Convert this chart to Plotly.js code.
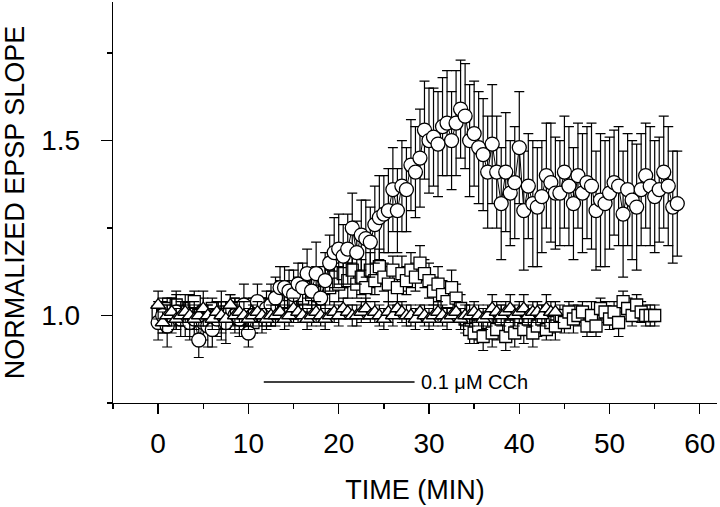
<!DOCTYPE html>
<html>
<head>
<meta charset="utf-8">
<script src="https://cdn.plot.ly/plotly-3.0.1.min.js"></script>
<style>
  html, body { margin: 0; padding: 0; background: #fff; }
  #plot { width: 720px; height: 507px; }
</style>
</head>
<body>
<div id="plot"></div>
<script>
// time points (min), shared by all three groups
const timeMin = [
    0, 0.5, 1, 1.5, 2, 2.5, 3, 3.5, 4, 4.5, 5, 5.5, 6, 6.5, 7, 7.5, 8, 8.5, 9, 9.5,
    10, 10.5, 11, 11.5, 12, 12.5, 13, 13.5, 14, 14.5, 15, 15.5, 16, 16.5, 17, 17.5, 18, 18.5, 19, 19.5,
    20, 20.5, 21, 21.5, 22, 22.5, 23, 23.5, 24, 24.5, 25, 25.5, 26, 26.5, 27, 27.5, 28, 28.5, 29, 29.5,
    30, 30.5, 31, 31.5, 32, 32.5, 33, 33.5, 34, 34.5, 35, 35.5, 36, 36.5, 37, 37.5, 38, 38.5, 39, 39.5,
    40, 40.5, 41, 41.5, 42, 42.5, 43, 43.5, 44, 44.5, 45, 45.5, 46, 46.5, 47, 47.5, 48, 48.5, 49, 49.5,
    50, 50.5, 51, 51.5, 52, 52.5, 53, 53.5, 54, 54.5, 55, 55.5, 56, 56.5, 57, 57.5
];

// circles (0 - 57.5 min)
const circleY = [
    0.98, 1.00, 0.97, 1.00, 1.01, 0.99, 1.00, 0.98, 0.99, 0.93, 0.98, 0.97, 0.96, 0.99, 1.00, 0.98, 1.01, 1.00, 0.99, 1.03,
    0.95, 1.00, 1.04, 1.00, 1.02, 1.03, 1.05, 1.08, 1.08, 1.07, 1.06, 1.09, 1.08, 1.12, 1.07, 1.12, 1.05, 1.10, 1.15, 1.18,
    1.19, 1.17, 1.19, 1.25, 1.18, 1.23, 1.22, 1.21, 1.26, 1.28, 1.29, 1.30, 1.36, 1.30, 1.37, 1.36, 1.43, 1.41, 1.45, 1.53,
    1.50, 1.51, 1.49, 1.54, 1.55, 1.50, 1.55, 1.59, 1.57, 1.50, 1.52, 1.48, 1.46, 1.41, 1.49, 1.41, 1.32, 1.41, 1.35, 1.38,
    1.48, 1.30, 1.37, 1.32, 1.31, 1.34, 1.40, 1.38, 1.35, 1.35, 1.41, 1.37, 1.32, 1.40, 1.35, 1.38, 1.37, 1.30, 1.33, 1.32,
    1.35, 1.38, 1.37, 1.29, 1.36, 1.33, 1.31, 1.36, 1.40, 1.37, 1.34, 1.36, 1.41, 1.37, 1.31, 1.32
];
const circleErr = [
    0.05, 0.05, 0.06, 0.05, 0.05, 0.05, 0.06, 0.05, 0.05, 0.05, 0.05, 0.06, 0.05, 0.05, 0.07, 0.06, 0.05, 0.05, 0.05, 0.06,
    0.04, 0.05, 0.05, 0.05, 0.05, 0.06, 0.06, 0.06, 0.06, 0.06, 0.07, 0.06, 0.07, 0.07, 0.06, 0.09, 0.07, 0.08, 0.08, 0.10,
    0.10, 0.09, 0.10, 0.10, 0.09, 0.10, 0.11, 0.10, 0.11, 0.12, 0.11, 0.12, 0.12, 0.12, 0.13, 0.12, 0.13, 0.13, 0.14, 0.14,
    0.15, 0.14, 0.15, 0.14, 0.15, 0.14, 0.15, 0.14, 0.15, 0.16, 0.15, 0.16, 0.16, 0.16, 0.17, 0.16, 0.16, 0.17, 0.15, 0.16,
    0.16, 0.17, 0.15, 0.18, 0.17, 0.16, 0.15, 0.17, 0.16, 0.15, 0.16, 0.17, 0.16, 0.15, 0.17, 0.16, 0.18, 0.17, 0.19, 0.18,
    0.16, 0.15, 0.17, 0.18, 0.16, 0.17, 0.18, 0.16, 0.15, 0.17, 0.16, 0.15, 0.16, 0.17, 0.16, 0.15
];

// squares (0 - 55 min)
const squareY = [
    1.01, 1.00, 1.02, 0.99, 1.03, 1.01, 1.00, 1.02, 1.04, 1.00, 1.01, 0.99, 1.02, 1.00, 0.98, 1.01, 1.00, 1.02, 0.99, 1.00,
    1.01, 0.98, 1.00, 1.01, 1.02, 1.03, 1.02, 1.05, 1.04, 1.06, 1.03, 1.07, 1.05, 1.08, 1.06, 1.09, 1.07, 1.10, 1.08, 1.11,
    1.09, 1.12, 1.10, 1.13, 1.09, 1.11, 1.08, 1.13, 1.10, 1.14, 1.11, 1.09, 1.13, 1.08, 1.12, 1.10, 1.13, 1.11, 1.15, 1.12,
    1.10, 1.07, 1.09, 1.06, 1.04, 1.08, 1.05, 1.02, 0.99, 0.96, 0.95, 0.97, 0.94, 0.98, 0.95, 0.96, 0.99, 0.94, 0.97, 0.95,
    0.98, 0.96, 0.99, 0.95, 0.97, 0.99, 0.96, 0.98, 0.97, 1.00, 0.98, 1.01, 0.99, 1.00, 1.01, 0.97, 1.00, 0.97, 1.02, 1.01,
    0.99, 1.01, 0.98, 1.04, 1.02, 1.00, 1.03, 1.01, 1.00, 1.00, 1.00
];
const squareErr = [
    0.03, 0.04, 0.03, 0.03, 0.04, 0.03, 0.03, 0.04, 0.03, 0.03, 0.04, 0.03, 0.03, 0.04, 0.03, 0.03, 0.04, 0.03, 0.03, 0.03,
    0.04, 0.03, 0.03, 0.04, 0.03, 0.04, 0.04, 0.05, 0.04, 0.04, 0.05, 0.04, 0.04, 0.05, 0.04, 0.05, 0.04, 0.04, 0.05, 0.04,
    0.05, 0.04, 0.05, 0.04, 0.04, 0.05, 0.04, 0.05, 0.04, 0.05, 0.04, 0.05, 0.04, 0.05, 0.05, 0.04, 0.05, 0.04, 0.05, 0.04,
    0.05, 0.04, 0.05, 0.04, 0.04, 0.05, 0.04, 0.04, 0.04, 0.04, 0.03, 0.04, 0.04, 0.03, 0.04, 0.03, 0.04, 0.04, 0.03, 0.04,
    0.03, 0.04, 0.03, 0.04, 0.03, 0.04, 0.03, 0.03, 0.04, 0.03, 0.03, 0.03, 0.04, 0.03, 0.03, 0.03, 0.04, 0.03, 0.03, 0.03,
    0.03, 0.03, 0.04, 0.03, 0.03, 0.03, 0.03, 0.03, 0.03, 0.03, 0.03
];

// triangles (0 - 44 min)
const triangleY = [
    1.03, 0.98, 1.00, 1.01, 0.99, 1.00, 1.01, 1.00, 0.99, 1.00, 1.02, 1.00, 0.99, 1.01, 1.00, 0.99, 1.03, 1.00, 1.01, 1.00,
    0.99, 1.00, 1.01, 1.00, 0.99, 1.00, 1.00, 1.01, 0.99, 1.00, 1.02, 1.01, 1.00, 0.99, 1.00, 1.01, 1.00, 0.99, 1.00, 1.01,
    1.00, 1.02, 1.01, 1.00, 1.00, 1.01, 1.02, 1.00, 1.01, 1.00, 0.99, 1.01, 1.00, 1.02, 1.01, 1.00, 1.00, 0.99, 1.01, 1.00,
    0.99, 1.00, 1.01, 1.00, 0.99, 1.00, 1.01, 0.99, 1.00, 1.00, 1.01, 1.00, 0.99, 1.00, 1.02, 1.01, 1.00, 1.01, 1.02, 1.00,
    1.01, 1.02, 1.00, 1.01, 1.01, 1.00, 1.02, 1.01, 1.01
];
const triangleErr = [
    0.04, 0.03, 0.03, 0.04, 0.03, 0.03, 0.03, 0.04, 0.03, 0.03, 0.05, 0.03, 0.03, 0.03, 0.04, 0.03, 0.03, 0.03, 0.03, 0.04,
    0.03, 0.03, 0.03, 0.02, 0.03, 0.03, 0.03, 0.02, 0.03, 0.03, 0.03, 0.03, 0.02, 0.03, 0.03, 0.03, 0.03, 0.03, 0.02, 0.03,
    0.03, 0.03, 0.02, 0.03, 0.03, 0.03, 0.03, 0.02, 0.03, 0.03, 0.03, 0.03, 0.03, 0.02, 0.03, 0.03, 0.03, 0.03, 0.02, 0.03,
    0.03, 0.03, 0.03, 0.03, 0.03, 0.02, 0.03, 0.03, 0.03, 0.03, 0.03, 0.03, 0.03, 0.03, 0.04, 0.03, 0.03, 0.03, 0.04, 0.03,
    0.03, 0.04, 0.03, 0.03, 0.03, 0.03, 0.04, 0.03, 0.03
];

// carbachol application bar
const cchStart = 11.7;
const cchEnd = 28.4;
const cchLevel = 0.81;
const cchLabel = '0.1 \u03bcM CCh';

const FONT = 'Liberation Sans, Arial, Helvetica, sans-serif';

function errBars(arr) {
    return { type: 'data', array: arr, visible: true, color: '#000', thickness: 1.2, width: 5 };
}

const squares = {
    x: timeMin.slice(0, squareY.length),
    y: squareY,
    mode: 'markers',
    type: 'scatter',
    marker: { symbol: 'square', size: 12, color: '#fff', line: { color: '#000', width: 1.3 } },
    error_y: errBars(squareErr)
};

const circles = {
    x: timeMin.slice(0, circleY.length),
    y: circleY,
    mode: 'lines+markers',
    type: 'scatter',
    line: { color: '#000', width: 1 },
    marker: { symbol: 'circle', size: 14, color: '#fff', line: { color: '#000', width: 1.3 } },
    error_y: errBars(circleErr)
};

const triangles = {
    x: timeMin.slice(0, triangleY.length),
    y: triangleY,
    mode: 'markers',
    type: 'scatter',
    marker: { symbol: 'triangle-up', size: 13, color: '#fff', line: { color: '#000', width: 1.3 } },
    error_y: errBars(triangleErr)
};

const layout = {
    width: 720,
    height: 507,
    margin: { l: 113, r: 3, t: 2, b: 104 },
    paper_bgcolor: '#fff',
    plot_bgcolor: '#fff',
    showlegend: false,
    font: { family: FONT, color: '#000' },
    xaxis: {
        range: [-5, 61.9],
        tick0: 0,
        dtick: 10,
        ticks: 'outside',
        ticklen: 10,
        tickwidth: 1.3,
        tickcolor: '#000',
        ticklabelstandoff: 5,
        tickfont: { size: 28, family: FONT },
        minor: { tick0: 0, dtick: 5, ticks: 'outside', ticklen: 5, tickwidth: 1.3, tickcolor: '#000', showgrid: false },
        showline: true,
        linecolor: '#000',
        linewidth: 1.3,
        showgrid: false,
        zeroline: false,
        automargin: false,
        title: { text: 'TIME (MIN)', font: { size: 27, family: FONT }, standoff: 22 }
    },
    yaxis: {
        range: [0.75, 1.896],
        tick0: 1.0,
        dtick: 0.5,
        tickformat: '.1f',
        ticks: 'outside',
        ticklen: 11,
        tickwidth: 1.3,
        tickcolor: '#000',
        ticklabelstandoff: 15,
        tickfont: { size: 28, family: FONT },
        minor: { tick0: 0.75, dtick: 0.25, ticks: 'outside', ticklen: 5, tickwidth: 1.3, tickcolor: '#000', showgrid: false },
        showline: true,
        linecolor: '#000',
        linewidth: 1.3,
        showgrid: false,
        zeroline: false,
        automargin: false,
        title: { text: 'NORMALIZED EPSP SLOPE', font: { size: 27, family: FONT }, standoff: 10 }
    },
    shapes: [
        {
            type: 'line', xref: 'x', yref: 'y',
            x0: cchStart, x1: cchEnd, y0: cchLevel, y1: cchLevel,
            line: { color: '#000', width: 1.5 }
        }
    ],
    annotations: [
        {
            xref: 'x', yref: 'y', x: cchEnd + 0.5, y: cchLevel,
            xanchor: 'left', yanchor: 'middle',
            text: cchLabel, showarrow: false,
            font: { size: 20, family: FONT, color: '#000' }
        }
    ]
};

Plotly.newPlot('plot', [squares, circles, triangles], layout, { staticPlot: true, displayModeBar: false });
</script>
</body>
</html>
